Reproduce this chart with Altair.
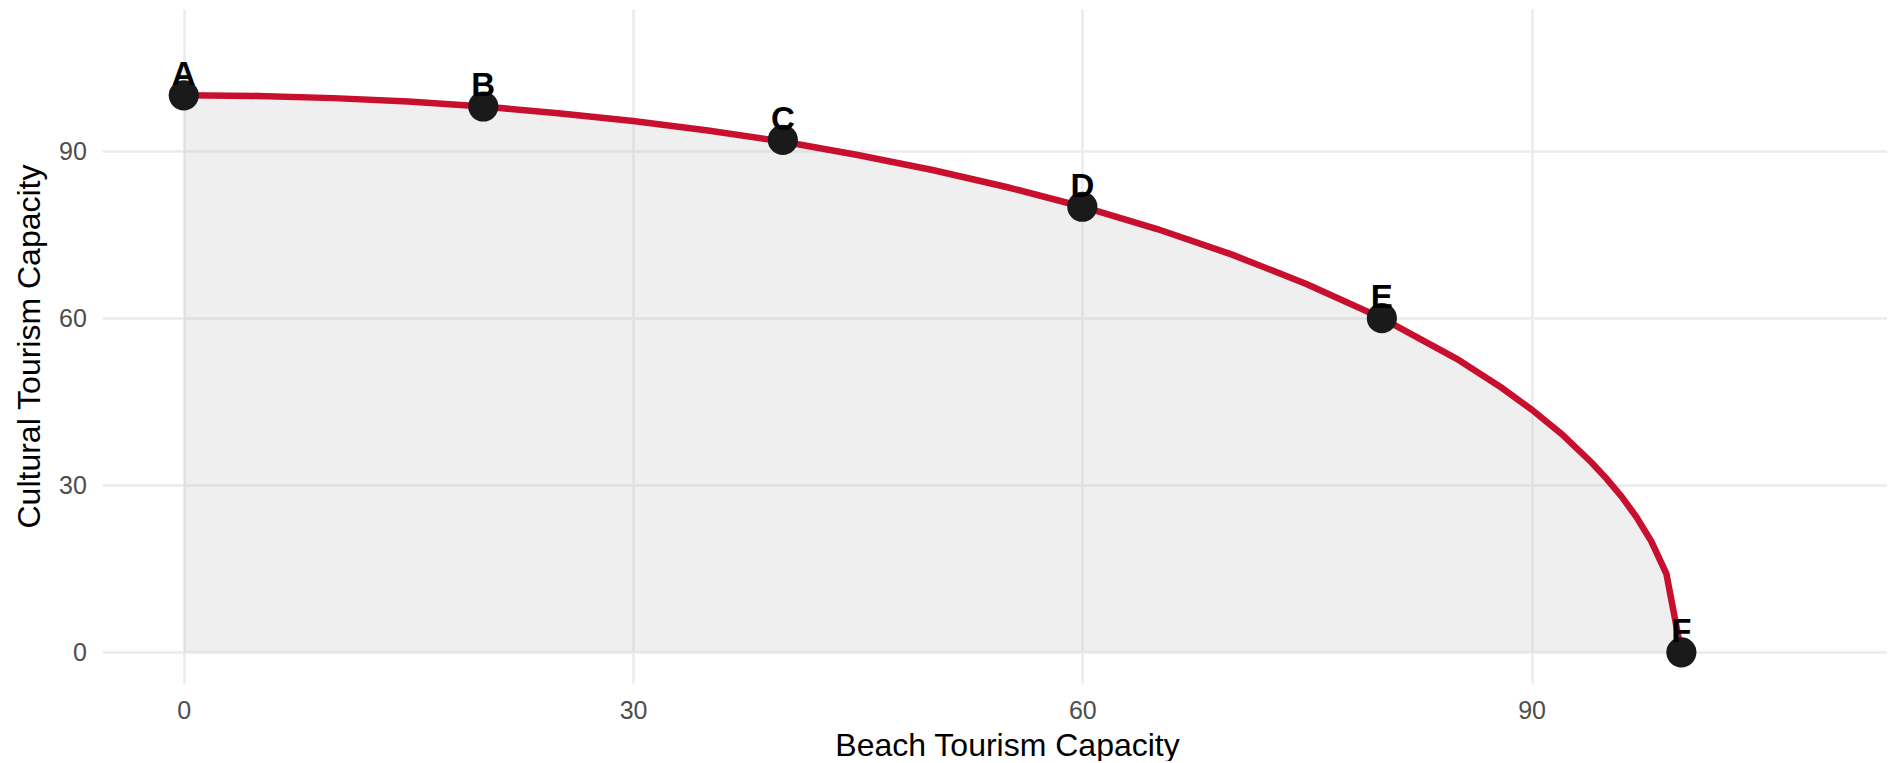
import altair as alt
import pandas as pd

# Frontier curve
curve_x = [0, 5, 10, 15, 20, 25, 30, 35, 40, 45, 50, 55, 60, 65, 70, 75, 80, 85, 88, 90, 92, 94, 95, 96, 97, 98, 99, 100]
curve_y = [100, 99.9, 99.5, 98.9, 98, 96.8, 95.4, 93.7, 91.7, 89.3, 86.6, 83.5, 80, 76, 71.4, 66.1, 60, 52.7, 47.5, 43.6, 39.2, 34.1, 31.2, 28, 24.3, 19.9, 14.1, 0]

# Labelled points
point_labels = ["A", "B", "C", "D", "E", "F"]
point_x = [0, 20, 40, 60, 80, 100]
point_y = [100, 98, 92, 80, 60, 0]

tick_values = [0, 30, 60, 90]

curve = pd.DataFrame({"x": curve_x, "y": curve_y})
pts = pd.DataFrame({"label": point_labels, "x": point_x, "y": point_y})

FONT = "Liberation Sans"

xscale = alt.Scale(domain=[-5.46, 113.73], nice=False, zero=False)
yscale = alt.Scale(domain=[-5.5, 115.5], nice=False, zero=False)

xaxis = alt.Axis(values=tick_values, title="Beach Tourism Capacity", grid=True,
                 ticks=False, tickSize=0, domain=False, labelPadding=15,
                 titlePadding=7, titleX=905)
yaxis = alt.Axis(values=tick_values, title="Cultural Tourism Capacity", grid=True,
                 ticks=False, tickSize=0, domain=False, labelPadding=15.7,
                 titlePadding=12)

X = alt.X("x:Q", scale=xscale, axis=xaxis)
Y = alt.Y("y:Q", scale=yscale, axis=yaxis)

area = alt.Chart(curve).mark_area(color="#BEBEBE", opacity=0.25).encode(
    x=X, y=Y, y2=alt.datum(0)
)
line = alt.Chart(curve).mark_line(color="#C8102E", strokeWidth=6.5).encode(x=X, y=Y)
points = alt.Chart(pts).mark_circle(color="#1A1A1A", size=908, opacity=1).encode(x=X, y=Y)
labels = alt.Chart(pts).mark_text(
    font=FONT, fontSize=33, fontWeight="bold", color="black", dy=-10, baseline="alphabetic"
).encode(x=X, y=Y, text="label:N")

chart = (area + line + points + labels).properties(
    width=1785, height=674,
    autosize=alt.AutoSizeParams(type="none"),
    padding={"left": 94, "top": 1, "right": 0, "bottom": 78},
).configure_view(stroke=None).configure_axis(
    gridColor="#EBEBEB", gridWidth=2.5,
    labelFont=FONT, labelFontSize=25, labelColor="#4D4D4D",
    titleFont=FONT, titleFontSize=32, titleColor="black", titleFontWeight="normal",
)

chart.save("out.html", embed_options={"renderer": "svg", "actions": False})
